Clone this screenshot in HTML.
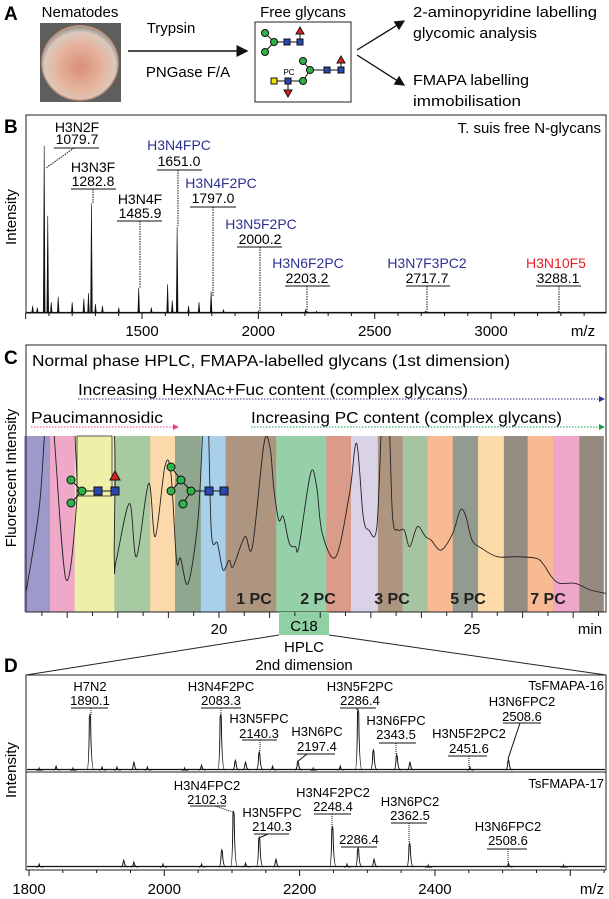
<!DOCTYPE html>
<html><head><meta charset="utf-8"><style>
html,body{margin:0;padding:0;background:#fff;}
svg{display:block;font-family:"Liberation Sans",sans-serif;}
</style></head><body>
<svg id="fig" width="609" height="899" viewBox="0 0 609 899" xmlns="http://www.w3.org/2000/svg">
<defs>
<radialGradient id="dish" cx="50%" cy="55%" r="55%">
<stop offset="0" stop-color="#d98f78"/><stop offset="0.6" stop-color="#e6b7a0"/><stop offset="0.85" stop-color="#d9c8bd"/><stop offset="1" stop-color="#8a8a88"/>
</radialGradient>
<clipPath id="cclip"><rect x="26" y="436" width="580" height="176"/></clipPath>
<marker id="ab" markerWidth="6" markerHeight="6" refX="5" refY="3" orient="auto"><path d="M0,0 L6,3 L0,6 z" fill="#2e3192"/></marker>
<marker id="ap" markerWidth="6" markerHeight="6" refX="5" refY="3" orient="auto"><path d="M0,0 L6,3 L0,6 z" fill="#ec3c8c"/></marker>
<marker id="ag" markerWidth="6" markerHeight="6" refX="5" refY="3" orient="auto"><path d="M0,0 L6,3 L0,6 z" fill="#1a9a4a"/></marker>
<marker id="ak" markerWidth="8" markerHeight="8" refX="7" refY="4" orient="auto"><path d="M0,0 L8,4 L0,8 z" fill="#111"/></marker>
</defs>

<!-- Panel A -->
<g>
<text x="4" y="20" font-size="19" font-weight="bold">A</text>
<text x="80" y="17" font-size="15" text-anchor="middle">Nematodes</text>
<rect x="40" y="23" width="81" height="79" fill="#5e5e5c"/>
<ellipse cx="80" cy="63" rx="38" ry="37" fill="url(#dish)" stroke="#c99780" stroke-width="1.5"/>
<line x1="128" y1="51" x2="247" y2="51" stroke="#111" stroke-width="1.5" marker-end="url(#ak)"/>
<text x="171" y="33" font-size="15" text-anchor="middle">Trypsin</text>
<text x="188" y="77" font-size="15" text-anchor="middle">PNGase F/A</text>
<text x="303" y="17" font-size="15" text-anchor="middle">Free glycans</text>
<rect x="255" y="22" width="96" height="80" fill="#fff" stroke="#222" stroke-width="1"/>
<g stroke="#111" stroke-width="1">
<line x1="265" y1="33" x2="274" y2="42"/><line x1="265" y1="52" x2="274" y2="42"/><line x1="274" y1="42" x2="300" y2="42"/><line x1="300" y1="42" x2="300" y2="31"/>
<circle cx="265" cy="33" r="3.5" fill="#2db34a"/><circle cx="274" cy="42" r="3.5" fill="#2db34a"/><circle cx="265" cy="52" r="3.5" fill="#2db34a"/>
<rect x="284" y="39" width="6" height="6" fill="#2a46b0"/><rect x="297" y="39" width="6" height="6" fill="#2a46b0"/>
<path d="M300,27 L304,34 L296,34 z" fill="#e02020"/>
</g>
<g stroke="#111" stroke-width="1">
<line x1="274" y1="81" x2="303" y2="81"/><line x1="288" y1="81" x2="288" y2="92"/><line x1="303" y1="81" x2="310" y2="70"/><line x1="310" y1="70" x2="303" y2="61"/><line x1="310" y1="70" x2="341" y2="70"/><line x1="341" y1="70" x2="341" y2="60"/>
<rect x="271" y="78" width="6" height="6" fill="#f5e000"/><rect x="285" y="78" width="6" height="6" fill="#2a46b0"/>
<circle cx="303" cy="81" r="3.5" fill="#2db34a"/><circle cx="310" cy="70" r="3.5" fill="#2db34a"/><circle cx="303" cy="61" r="3.5" fill="#2db34a"/>
<rect x="324" y="67" width="6" height="6" fill="#2a46b0"/><rect x="338" y="67" width="6" height="6" fill="#2a46b0"/>
<path d="M284,90 L292,90 L288,97 z" fill="#e02020"/><path d="M341,56 L345,63 L337,63 z" fill="#e02020"/>
<text x="289" y="75" font-size="8" text-anchor="middle" stroke="none">PC</text>
</g>
<line x1="357" y1="50" x2="404" y2="21" stroke="#111" stroke-width="1.3" marker-end="url(#ak)"/>
<line x1="357" y1="55" x2="404" y2="85" stroke="#111" stroke-width="1.3" marker-end="url(#ak)"/>
<text x="413" y="17" font-size="15" textLength="184" lengthAdjust="spacingAndGlyphs">2-aminopyridine labelling</text>
<text x="413" y="38" font-size="15" textLength="124" lengthAdjust="spacingAndGlyphs">glycomic analysis</text>
<text x="413" y="85" font-size="15" textLength="116" lengthAdjust="spacingAndGlyphs">FMAPA labelling</text>
<text x="413" y="106" font-size="15" textLength="108" lengthAdjust="spacingAndGlyphs">immobilisation</text>
</g>

<!-- Panel B -->
<g>
<text x="4" y="133" font-size="19" font-weight="bold">B</text>
<rect x="26" y="115" width="580" height="198" fill="none" stroke="#222" stroke-width="1"/>
<text x="601" y="133" font-size="15" text-anchor="end">T. suis free N-glycans</text>
<text transform="translate(16,217) rotate(-90)" font-size="15" text-anchor="middle">Intensity</text>
<g id="bMarks"></g>
<g font-size="14" text-anchor="middle">
<text x="77" y="132">H3N2F</text><text x="77" y="144">1079.7</text>
<line x1="54" y1="148" x2="99" y2="148" stroke="#111"/><line x1="74" y1="148" x2="46" y2="168" stroke="#111" stroke-dasharray="1.5,1"/>
<text x="93" y="172">H3N3F</text><text x="93" y="186">1282.8</text>
<line x1="71" y1="189" x2="116" y2="189" stroke="#111"/><line x1="93" y1="189" x2="93" y2="204" stroke="#111" stroke-dasharray="1.5,1"/>
<text x="140" y="204">H3N4F</text><text x="140" y="218">1485.9</text>
<line x1="117" y1="221" x2="162" y2="221" stroke="#111"/><line x1="140" y1="221" x2="140" y2="288" stroke="#111" stroke-dasharray="1.5,1"/>
<text x="179" y="150" fill="#2e3192">H3N4FPC</text><text x="179" y="166">1651.0</text>
<line x1="157" y1="170" x2="202" y2="170" stroke="#111"/><line x1="178" y1="170" x2="178" y2="226" stroke="#111" stroke-dasharray="1.5,1"/>
<text x="221" y="188" fill="#2e3192">H3N4F2PC</text><text x="213" y="203">1797.0</text>
<line x1="190" y1="207" x2="236" y2="207" stroke="#111"/><line x1="213" y1="207" x2="213" y2="296" stroke="#111" stroke-dasharray="1.5,1"/>
<text x="261" y="229" fill="#2e3192">H3N5F2PC</text><text x="260" y="244">2000.2</text>
<line x1="237" y1="247" x2="282" y2="247" stroke="#111"/><line x1="260" y1="247" x2="260" y2="313" stroke="#111" stroke-dasharray="1.5,1"/>
<text x="308" y="268" fill="#2e3192">H3N6F2PC</text><text x="307" y="283">2203.2</text>
<line x1="285" y1="286" x2="330" y2="286" stroke="#111"/><line x1="307" y1="286" x2="307" y2="313" stroke="#111" stroke-dasharray="1.5,1"/>
<text x="427" y="268" fill="#2e3192">H3N7F3PC2</text><text x="427" y="283">2717.7</text>
<line x1="406" y1="286" x2="450" y2="286" stroke="#111"/><line x1="427" y1="286" x2="427" y2="313" stroke="#111" stroke-dasharray="1.5,1"/>
<text x="556" y="268" fill="#ed1c24">H3N10F5</text><text x="558" y="283">3288.1</text>
<line x1="536" y1="286" x2="581" y2="286" stroke="#111"/><line x1="559" y1="286" x2="559" y2="313" stroke="#111" stroke-dasharray="1.5,1"/>
</g>
<text x="583" y="336" font-size="15" text-anchor="middle">m/z</text>
</g>

<!-- Panel C -->
<g>
<text x="4" y="364" font-size="19" font-weight="bold">C</text>
<g id="cBands"></g>
<rect x="26" y="345" width="580" height="267" fill="none" stroke="#222" stroke-width="1"/>
<text x="32" y="366" font-size="16" textLength="478" lengthAdjust="spacingAndGlyphs">Normal phase HPLC, FMAPA-labelled glycans (1st dimension)</text>
<text x="78" y="395" font-size="16" textLength="390" lengthAdjust="spacingAndGlyphs">Increasing HexNAc+Fuc content (complex glycans)</text>
<line x1="78" y1="399" x2="604" y2="399" stroke="#2e3192" stroke-width="1" stroke-dasharray="1.5,1.5" marker-end="url(#ab)"/>
<text x="31" y="423" font-size="16" textLength="132" lengthAdjust="spacingAndGlyphs">Paucimannosidic</text>
<line x1="31" y1="427" x2="178" y2="427" stroke="#ec3c8c" stroke-width="1" stroke-dasharray="1.5,1.5" marker-end="url(#ap)"/>
<text x="251" y="423" font-size="16" textLength="311" lengthAdjust="spacingAndGlyphs">Increasing PC content (complex glycans)</text>
<line x1="251" y1="427" x2="604" y2="427" stroke="#1a9a4a" stroke-width="1" stroke-dasharray="1.5,1.5" marker-end="url(#ag)"/>
<rect x="77" y="436" width="35" height="60" fill="none" stroke="#333" stroke-width="0.8"/>
<g id="cTrace" clip-path="url(#cclip)"></g>
<g stroke="#111" stroke-width="1">
<line x1="71" y1="480" x2="82" y2="491"/><line x1="71" y1="503" x2="82" y2="491"/><line x1="82" y1="491" x2="115" y2="491"/><line x1="115" y1="491" x2="115" y2="478"/>
<circle cx="71" cy="480" r="4" fill="#2db34a"/><circle cx="82" cy="491" r="4" fill="#2db34a"/><circle cx="71" cy="503" r="4" fill="#2db34a"/>
<rect x="94" y="487" width="8" height="8" fill="#2a46b0"/><rect x="111" y="487" width="8" height="8" fill="#2a46b0"/>
<path d="M115,471 L120,480 L110,480 z" fill="#e02020"/>
</g>
<g stroke="#111" stroke-width="1">
<line x1="171" y1="467" x2="181" y2="480"/><line x1="181" y1="480" x2="191" y2="491"/><line x1="171" y1="491" x2="181" y2="480"/><line x1="191" y1="491" x2="183" y2="504"/><line x1="191" y1="491" x2="224" y2="491"/>
<circle cx="171" cy="467" r="4" fill="#2db34a"/><circle cx="181" cy="480" r="4" fill="#2db34a"/><circle cx="171" cy="491" r="4" fill="#2db34a"/><circle cx="191" cy="491" r="4" fill="#2db34a"/><circle cx="183" cy="504" r="4" fill="#2db34a"/>
<rect x="205" y="487" width="8" height="8" fill="#2a46b0"/><rect x="220" y="487" width="8" height="8" fill="#2a46b0"/>
</g>
<g font-size="16" font-weight="bold" text-anchor="middle" fill="#222">
<text x="254" y="604">1 PC</text><text x="318" y="604">2 PC</text><text x="392" y="604">3 PC</text><text x="468" y="604">5 PC</text><text x="548" y="604">7 PC</text>
</g>
<text transform="translate(16,478) rotate(-90)" font-size="15" text-anchor="middle">Fluorescent Intensity</text>
<rect x="279" y="612" width="50" height="23" fill="#8fd1a4"/>
<text x="304" y="631" font-size="15" text-anchor="middle">C18</text>
<text x="590" y="634" font-size="15" text-anchor="middle">min</text>
<line x1="279" y1="635" x2="26" y2="675" stroke="#222"/>
<line x1="329" y1="635" x2="606" y2="675" stroke="#222"/>
<text x="304" y="652" font-size="15" text-anchor="middle">HPLC</text>
<text x="304" y="670" font-size="15" text-anchor="middle">2nd dimension</text>
</g>

<!-- Panel D -->
<g>
<text x="4" y="672" font-size="19" font-weight="bold">D</text>
<rect x="26" y="675" width="580" height="195" fill="none" stroke="#222" stroke-width="1"/>
<line x1="26" y1="772" x2="606" y2="772" stroke="#222"/>
<text transform="translate(16,770) rotate(-90)" font-size="15" text-anchor="middle">Intensity</text>
<text x="604" y="690" font-size="13" text-anchor="end">TsFMAPA-16</text>
<text x="604" y="788" font-size="13" text-anchor="end">TsFMAPA-17</text>
<g id="dMarks"></g>
<g font-size="13" text-anchor="middle">
<text x="90" y="691">H7N2</text><text x="90" y="705">1890.1</text>
<line x1="71" y1="708" x2="108" y2="708" stroke="#111"/><line x1="91" y1="708" x2="91" y2="715" stroke="#111" stroke-dasharray="1,1"/>
<text x="221" y="691">H3N4F2PC</text><text x="221" y="705">2083.3</text>
<line x1="201" y1="708" x2="241" y2="708" stroke="#111"/><line x1="221" y1="708" x2="221" y2="715" stroke="#111" stroke-dasharray="1,1"/>
<text x="259" y="723">H3N5FPC</text><text x="259" y="738">2140.3</text>
<line x1="242" y1="740" x2="277" y2="740" stroke="#111"/><line x1="260" y1="740" x2="260" y2="752" stroke="#111" stroke-dasharray="1,1"/>
<text x="317" y="736">H3N6PC</text><text x="317" y="751">2197.4</text>
<line x1="297" y1="754" x2="335" y2="754" stroke="#111"/><line x1="307" y1="754" x2="297" y2="762" stroke="#111"/>
<text x="360" y="691">H3N5F2PC</text><text x="360" y="705">2286.4</text>
<line x1="340" y1="708" x2="376" y2="708" stroke="#111"/><line x1="357" y1="708" x2="357" y2="710" stroke="#111"/>
<text x="396" y="725">H3N6FPC</text><text x="396" y="739">2343.5</text>
<line x1="379" y1="743" x2="416" y2="743" stroke="#111"/><line x1="396" y1="743" x2="396" y2="755" stroke="#111" stroke-dasharray="1,1"/>
<text x="469" y="738">H3N5F2PC2</text><text x="469" y="753">2451.6</text>
<line x1="448" y1="756" x2="487" y2="756" stroke="#111"/><line x1="469" y1="756" x2="469" y2="767" stroke="#111" stroke-dasharray="1,1"/>
<text x="522" y="706">H3N6FPC2</text><text x="522" y="721">2508.6</text>
<line x1="503" y1="723" x2="541" y2="723" stroke="#111"/><line x1="520" y1="723" x2="508" y2="759" stroke="#111"/>
<text x="207" y="790">H3N4FPC2</text><text x="207" y="804">2102.3</text>
<line x1="190" y1="806" x2="226" y2="806" stroke="#111"/><line x1="215" y1="806" x2="233" y2="812" stroke="#111" stroke-dasharray="1,1"/>
<text x="272" y="817">H3N5FPC</text><text x="272" y="831">2140.3</text>
<line x1="254" y1="834" x2="289" y2="834" stroke="#111"/><line x1="268" y1="834" x2="259" y2="838" stroke="#111"/>
<text x="333" y="797">H3N4F2PC2</text><text x="333" y="811">2248.4</text>
<line x1="314" y1="814" x2="351" y2="814" stroke="#111"/><line x1="332" y1="814" x2="332" y2="827" stroke="#111" stroke-dasharray="1,1"/>
<text x="359" y="844">2286.4</text>
<line x1="341" y1="847" x2="377" y2="847" stroke="#111"/>
<text x="410" y="806">H3N6PC2</text><text x="410" y="820">2362.5</text>
<line x1="391" y1="823" x2="427" y2="823" stroke="#111"/><line x1="409" y1="823" x2="409" y2="843" stroke="#111" stroke-dasharray="1,1"/>
<text x="508" y="831">H3N6FPC2</text><text x="508" y="845">2508.6</text>
<line x1="487" y1="849" x2="527" y2="849" stroke="#111"/><line x1="508" y1="849" x2="508" y2="863" stroke="#111" stroke-dasharray="1,1"/>
</g>
<text x="592" y="894" font-size="15" text-anchor="middle">m/z</text>
</g>
</svg>
<script>
// ---- Panel B data ----
const bMz = [1030, 1050, 1079.7, 1095, 1110, 1140, 1200, 1250, 1270, 1282.8, 1300, 1330, 1400, 1485.9, 1540, 1610, 1630, 1651.0, 1700, 1745, 1797.0, 1850, 2000.2, 2203.2, 2250, 2717.7, 3288.1];
const bInt = [4, 3, 93, 54, 6, 9, 6, 8, 11, 61, 5, 4, 3, 14, 3, 16, 7, 48, 4, 6, 12, 2, 1, 2, 1, 1, 1];
const bTicks = [1500, 2000, 2500, 3000];
// ---- Panel C data ----
const cTime = [16.19,16.45,16.59,16.70,16.97,17.19,17.20,17.88,17.93,17.97,18.23,18.37,18.61,18.74,18.93,19.05,19.16,19.24,19.39,19.59,19.70,19.78,19.85,19.97,20.08,20.20,20.28,20.51,20.66,20.89,21.01,21.08,21.18,21.27,21.39,21.51,21.58,21.81,21.93,22.04,22.31,22.58,22.72,22.85,22.96,23.12,23.23,23.35,23.43,23.54,23.66,23.77,23.92,24.08,24.19,24.39,24.62,24.77,24.88,25.00,25.19,25.50,25.88,26.27,26.42,26.57,26.73,27.04,27.34,27.65];
const cInt = [11.6,60,115,115,19.1,63.6,115,115,29.5,29.5,61.7,31.4,73.1,42.8,82.6,78.8,29.5,30.5,16.3,54.2,115,115,44.7,39.0,23.9,29.5,25.8,42.8,37.1,95.8,93.0,71.2,52.3,54.2,39.0,37.1,37.1,78.8,71.2,44.7,31.4,67.4,95.8,54.2,46.6,48.5,115,115,54.2,46.6,46.6,37.1,48.5,42.8,40.9,35.2,44.7,58.0,54.2,40.9,36.2,31.4,31.4,30.5,26.7,20.1,16.3,16.3,12.5,10.6];
const cBandEdges = [16.15,16.66,17.15,17.93,18.64,19.13,19.64,20.13,21.13,22.12,22.61,23.14,23.63,24.12,24.62,25.12,25.63,26.10,26.60,27.12,27.60];
const cBandColors = ["#9d99cb","#f0a8c9","#eef0a8","#a8caa2","#fcd9aa","#8fa78e","#a8d0ea","#ad9580","#95d0a9","#da9b89","#dad3e8","#ad9580","#a6c4a1","#f8ba92","#919b8f","#fcdba8","#978c82","#f8ba92","#eea7c9","#958a80"];
const cTicks = [20, 25];
// ---- Panel D data ----
const d1Mz = [1815, 1840, 1865, 1890.1, 1908, 1930, 1955, 1975, 2030, 2055, 2083.3, 2105, 2120, 2140.3, 2160, 2197.4, 2220, 2260, 2286.4, 2309, 2343.5, 2363, 2451.6, 2508.6];
const d1Int = [2, 4, 2, 58, 3, 3, 8, 3, 2, 5, 58, 10, 8, 19, 4, 9, 2, 4, 63, 21, 16, 8, 3, 11];
const d2Mz = [1815, 1940, 1955, 1998, 2055, 2085, 2102.3, 2120, 2140.3, 2165, 2248.4, 2270, 2286.4, 2310, 2362.5, 2390, 2508.6, 2590];
const d2Int = [3, 7, 5, 3, 3, 18, 58, 4, 31, 8, 42, 3, 20, 8, 25, 2, 4, 2];
const dTicks = [1800, 2000, 2200, 2400];

const NS = "http://www.w3.org/2000/svg";
function mk(tag, attrs, parent) { const e = document.createElementNS(NS, tag); for (const k in attrs) e.setAttribute(k, attrs[k]); parent.appendChild(e); return e; }

// Panel B
const xB = m => 142 + (m - 1500) * 0.2327;
const yB = v => 313 - v * 1.8;
const bG = document.getElementById("bMarks");
mk("line", {x1: 26, y1: 312.5, x2: 606, y2: 312.5, stroke: "#111", "stroke-width": 1.2}, bG);
bMz.forEach((m, i) => {
  const p = mk("path", {d: `M${xB(m)-0.9},313 L${xB(m)},${yB(bInt[i])} L${xB(m)+0.9},313 z`, fill: "#111", stroke: "#111", "stroke-width": 0.6}, bG);
  
  
});
for (let m = 1000; m <= 3400; m += 100) {
  const t = mk("line", {x1: xB(m), y1: 313, x2: xB(m), y2: m % 500 === 0 ? 319 : 316, stroke: "#111"}, bG);
  
  
}
bTicks.forEach(m => {
  const t = mk("text", {x: xB(m), y: 336, "font-size": 15, "text-anchor": "middle"}, bG);
  t.textContent = m;
  
  
});

// Panel C
const xC = t => 219 + (t - 20) * 50.6;
const yC = v => 612 - v * 1.76;
const bandG = document.getElementById("cBands");
cBandColors.forEach((c, i) => {
  const r = mk("rect", {x: xC(cBandEdges[i]), y: 436, width: xC(cBandEdges[i+1]) - xC(cBandEdges[i]) + 0.3, height: 176, fill: c}, bandG);
  
  
});
const trG = document.getElementById("cTrace");
const pts = cTime.map((t, i) => [xC(t), yC(cInt[i])]);
let d = `M${pts[0][0]},${pts[0][1]}`;
for (let i = 0; i < pts.length - 1; i++) {
  const p0 = pts[Math.max(0, i-1)], p1 = pts[i], p2 = pts[i+1], p3 = pts[Math.min(pts.length-1, i+2)];
  const c1 = [p1[0] + (p2[0]-p0[0])/6, p1[1] + (p2[1]-p0[1])/6];
  const c2 = [p2[0] - (p3[0]-p1[0])/6, p2[1] - (p3[1]-p1[1])/6];
  d += ` C${c1[0]},${c1[1]} ${c2[0]},${c2[1]} ${p2[0]},${p2[1]}`;
}
const trace = mk("path", {d: d, fill: "none", stroke: "#222", "stroke-width": 0.9}, trG);


const cAx = document.getElementById("fig");
for (let t = 16.5; t <= 27.6; t += 0.5) {
  const tk = mk("line", {x1: xC(t), y1: 612, x2: xC(t), y2: Number.isInteger(t) ? 618 : 616, stroke: "#222"}, cAx);
  
  
}
cTicks.forEach(t => {
  const tx = mk("text", {x: xC(t), y: 634, "font-size": 15, "text-anchor": "middle"}, cAx);
  tx.textContent = t;
  
  
});

// Panel D
const xD = m => 29 + (m - 1800) * 0.6766;
const yD1 = v => 770 - v * 0.95;
const yD2 = v => 867 - v * 0.95;
const dG = document.getElementById("dMarks");
mk("line", {x1: 27, y1: 769.5, x2: 605, y2: 769.5, stroke: "#111", "stroke-width": 1.2}, dG);
mk("line", {x1: 27, y1: 866.5, x2: 605, y2: 866.5, stroke: "#111", "stroke-width": 1.2}, dG);
function dPeak(m, v, yf, base) {
  const x = xD(m), y = yf(v);
  return `M${x-3},${base} Q${x-1},${base} ${x-0.6},${y+2} L${x},${y} L${x+0.6},${y+2} Q${x+1.2},${base} ${x+4},${base}`;
}
d1Mz.forEach((m, i) => {
  const p = mk("path", {d: dPeak(m, d1Int[i], yD1, 770), fill: "none", stroke: "#111", "stroke-width": 1}, dG);
  
  
});
d2Mz.forEach((m, i) => {
  const p = mk("path", {d: dPeak(m, d2Int[i], yD2, 867), fill: "none", stroke: "#111", "stroke-width": 1}, dG);
  
  
});
for (let m = 1800; m <= 2650; m += 50) {
  const tk = mk("line", {x1: xD(m), y1: 870, x2: xD(m), y2: m % 200 === 0 ? 876 : 873, stroke: "#111"}, dG);
  
  
}
dTicks.forEach(m => {
  const tx = mk("text", {x: xD(m), y: 894, "font-size": 15, "text-anchor": "middle"}, dG);
  tx.textContent = m;
  
  
});
</script>
</body></html>
